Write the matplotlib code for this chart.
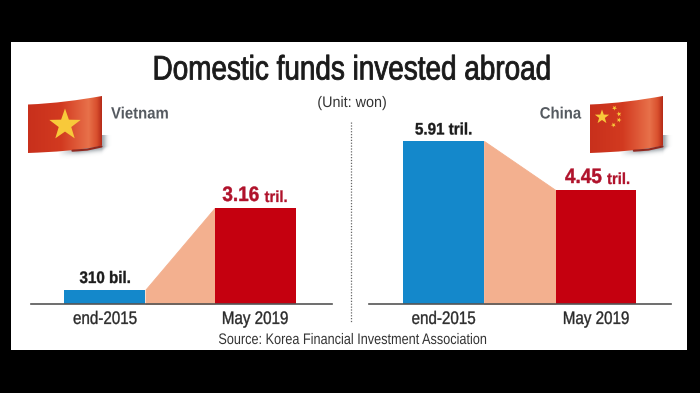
import numpy as np
import matplotlib
matplotlib.use("Agg")
import matplotlib.pyplot as plt
from matplotlib.patches import Polygon, PathPatch, Rectangle
from matplotlib.path import Path
from matplotlib.colors import LinearSegmentedColormap
from matplotlib.patheffects import AbstractPathEffect
from matplotlib.transforms import Affine2D

plt.rcParams['font.family'] = ['Liberation Sans', 'DejaVu Sans']

periods = ["end-2015", "May 2019"]
# bar heights as drawn in the graphic (it is not to a common scale)
vietnam_heights = [14.5, 96]
china_heights = [163, 114]
vietnam_numbers = ["310 bil.", "3.16"]
china_numbers = ["5.91 tril.", "4.45"]
unit_suffix = "tril."

W, H = 700, 393
BLUE, RED, PEACH = "#1488cb", "#c5000f", "#f3b08f"
LABEL_RED, INK = "#b0122b", "#1c1c1c"


class Condense(AbstractPathEffect):
    """Narrow the glyphs horizontally about a fraction of the text width."""

    def __init__(self, sx, anchor=0.5, stroke=0.0):
        super().__init__()
        self.sx, self.anchor, self.stroke = sx, anchor, stroke

    def draw_path(self, renderer, gc, tpath, affine, rgbFace=None):
        e = tpath.get_extents()
        c = e.x0 + self.anchor * (e.x1 - e.x0)
        t = Affine2D().translate(-c, 0).scale(self.sx, 1).translate(c, 0) + affine
        gc0 = renderer.new_gc()
        gc0.copy_properties(gc)
        if self.stroke > 0 and rgbFace is not None:
            gc0.set_foreground(rgbFace)
            gc0.set_linewidth(self.stroke)
        else:
            gc0.set_linewidth(0)
        renderer.draw_path(gc0, tpath, t, rgbFace)
        gc0.restore()


fig = plt.figure(figsize=(W / 100, H / 100), dpi=100, facecolor="black")

bg = fig.add_axes([0, 0, 1, 1])
bg.set_xlim(0, W); bg.set_ylim(H, 0); bg.axis("off")
bg.add_patch(Rectangle((11, 42), 676, 308, fc="white", ec="none"))
bg.plot([351, 351], [122, 322], color="#666666", lw=0.9, ls=(0, (1, 1.3)))


def pos(x0, x1, y0, y1):
    return [x0 / W, 1 - y1 / H, (x1 - x0) / W, (y1 - y0) / H]


def panel(rect, xlim, width, heights, numbers, off_num, off_unit):
    ax = fig.add_axes(pos(*rect))
    ax.patch.set_alpha(0)
    ax.set_xlim(*xlim)
    ax.set_ylim(0, rect[3] - rect[2])
    x = np.arange(len(heights))
    ax.fill_between([x[0] + width / 2, x[1] - width / 2], heights, 0, color=PEACH, lw=0.6)
    ax.bar(x, heights, width=width, color=[BLUE, RED], lw=0, zorder=2)
    for s in ("top", "left", "right"):
        ax.spines[s].set_visible(False)
    ax.spines["bottom"].set_color("#555555")
    ax.spines["bottom"].set_linewidth(1.2)
    ax.set_yticks([])
    ax.set_xticks(x, periods)
    ax.tick_params(axis="x", length=0, pad=5, labelsize=13, labelcolor="#2a2a2a")
    for lab in ax.get_xticklabels():
        lab.set_path_effects([Condense(0.84, 0.5, 0.25)])
    ax.annotate(numbers[0], (x[0], heights[0]), xytext=(0, 3.5), textcoords="offset pixels",
                ha="center", va="bottom", fontsize=12, fontweight="bold", color=INK, zorder=3,
                path_effects=[Condense(0.91, 0.5, 0.25)])
    ax.annotate(numbers[1], (x[1], heights[1]), xytext=(off_num, 3), textcoords="offset pixels",
                ha="right", va="bottom", fontsize=15, fontweight="bold", color=LABEL_RED, zorder=3,
                path_effects=[Condense(0.91, 1.0, 0.3)])
    ax.annotate(unit_suffix, (x[1], heights[1]), xytext=(off_unit, 3), textcoords="offset pixels",
                ha="left", va="bottom", fontsize=11.5, fontweight="bold", color=LABEL_RED, zorder=3,
                path_effects=[Condense(0.93, 0.0, 0.2)])
    return ax


panel((31, 332, 100, 304), (-0.493, 1.513), 0.54, vietnam_heights, vietnam_numbers, 4.5, 9.5)
panel((369, 671, 100, 304), (-0.489, 1.492), 0.531, china_heights, china_numbers, 6, 11)

# Titles and notes
bg.text(352, 71, "Domestic funds invested abroad", ha="center", va="center",
        fontsize=24.5, color="#1a1a1a", path_effects=[Condense(0.82, 0.5, 0.6)])
bg.text(352, 103, "(Unit: won)", ha="center", va="center", fontsize=11, color="#333333",
        path_effects=[Condense(0.94, 0.5)])
bg.text(352, 340, "Source: Korea Financial Investment Association", ha="center", va="center",
        fontsize=11, color="#333333", path_effects=[Condense(0.83, 0.5)])
bg.text(111, 114, "Vietnam", ha="left", va="center", fontsize=11.8, fontweight="bold", color="#555a60",
        path_effects=[Condense(0.91, 0.0)])
bg.text(581, 114, "China", ha="right", va="center", fontsize=11.8, fontweight="bold", color="#555a60",
        path_effects=[Condense(0.91, 1.0)])

ribbon_cmap = LinearSegmentedColormap.from_list(
    "ribbon", [(0, "#c8301c"), (0.45, "#d23a20"), (0.82, "#e8714a"), (0.93, "#d9502e"), (1, "#b52a18")])


def flag(x0, x1):
    w = x1 - x0
    # soft shadow below the lower right edge of the ribbon
    yy, xx = np.mgrid[135:162:54j, x0 + 20:x1 + 12:120j]
    line_y = 151 - (xx - (x0 + w * .55)) * 0.12
    d = np.maximum(yy - line_y, 0) + np.maximum(xx - x1, 0) * 0.9
    alpha = 0.55 * np.exp(-(d / 4.0) ** 2) * np.clip((xx - (x0 + 30)) / 20, 0, 1)
    rgba = np.zeros(xx.shape + (4,))
    rgba[..., :3] = (0.32, 0.38, 0.42)
    rgba[..., 3] = alpha
    bg.imshow(rgba, extent=(x0 + 20, x1 + 12, 162, 135), aspect="auto", zorder=1, interpolation="bilinear")

    top = [(x0, 104.5), (x0 + w * .35, 103.5), (x0 + w * .7, 100), (x1, 96)]
    bot = [(x1, 145.5), (x0 + w * .7, 150.5), (x0 + w * .35, 152), (x0, 153)]
    verts = top + bot + [top[0]]
    codes = [Path.MOVETO, Path.CURVE4, Path.CURVE4, Path.CURVE4, Path.LINETO,
             Path.CURVE4, Path.CURVE4, Path.CURVE4, Path.CLOSEPOLY]
    path = Path(verts, codes)
    im = bg.imshow(np.linspace(0, 1, 256).reshape(1, -1), extent=(x0, x1, 155, 94), cmap=ribbon_cmap,
                   aspect="auto", zorder=2)
    patch = PathPatch(path, fc="none", ec="none", transform=bg.transData)
    bg.add_patch(patch)
    im.set_clip_path(patch)
    # dark fold along the lower edge
    bg.plot([x0 + w * .6, x0 + w * .8, x1 - 0.5], [150.7, 149.6, 146.5], color="#8f1a10", lw=1.5, zorder=3,
            solid_capstyle="round", alpha=0.9)
    bg.set_xlim(0, W); bg.set_ylim(H, 0)


def star_pts(cx, cy, r, rot=-90):
    a = np.deg2rad(rot + np.arange(10) * 36)
    rad = np.where(np.arange(10) % 2 == 0, r, r * 0.4)
    return np.c_[cx + rad * np.cos(a), cy + rad * np.sin(a)]


flag(28, 102)
flag(590, 663)
STAR = "#f8c93a"
bg.add_patch(Polygon(star_pts(65, 125, 16.5), fc=STAR, ec="none", zorder=4))
bg.add_patch(Polygon(star_pts(602, 117, 7.5), fc=STAR, ec="none", zorder=4))
for cx, cy, rot in [(614.5, 108, -60), (619, 114, -30), (619, 120, 0), (613.5, 125, 30)]:
    bg.add_patch(Polygon(star_pts(cx, cy, 2.6, rot), fc=STAR, ec="none", zorder=4))

fig.savefig("out.png", dpi=100, facecolor="black")
